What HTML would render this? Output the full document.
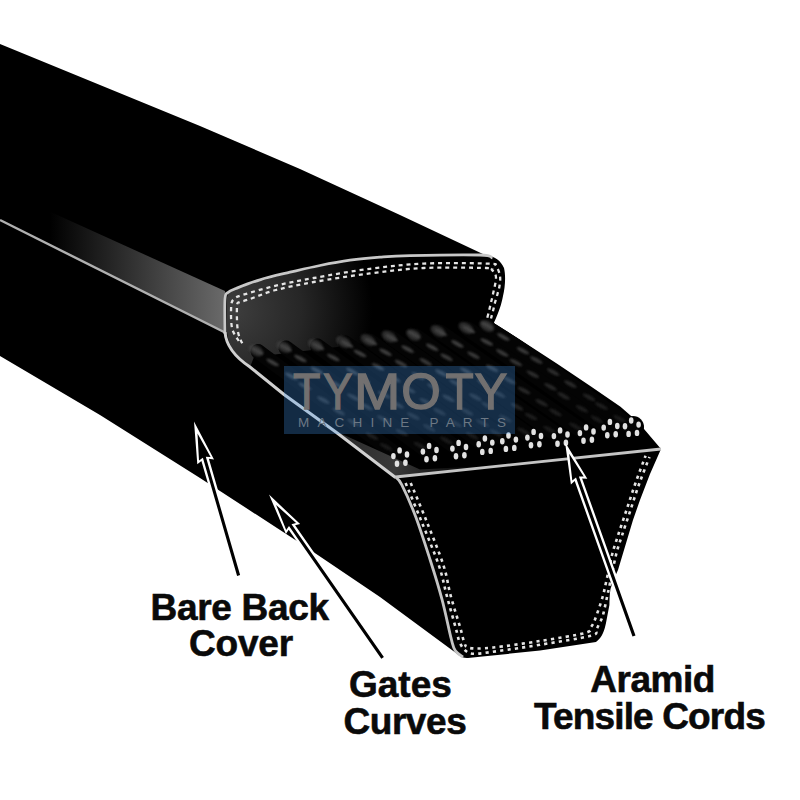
<!DOCTYPE html>
<html><head><meta charset="utf-8"><style>
html,body{margin:0;padding:0;background:#fff;}
body{width:800px;height:800px;overflow:hidden;position:relative;}
svg{position:absolute;left:0;top:0;}
.lbl{position:absolute;font-family:"Liberation Sans",sans-serif;font-weight:bold;color:#0a0a0a;text-align:center;white-space:nowrap;letter-spacing:-0.4px;}
</style></head><body>
<svg width="800" height="800" viewBox="0 0 800 800">
<defs>
<linearGradient id="band" x1="50" y1="0" x2="225" y2="0" gradientUnits="userSpaceOnUse">
<stop offset="0" stop-color="#000"/><stop offset="1" stop-color="#6a6a6a"/></linearGradient>
<radialGradient id="capg" cx="232" cy="310" r="140" fx="232" fy="310" gradientUnits="userSpaceOnUse"><stop offset="0" stop-color="#3e3e3e"/><stop offset="0.5" stop-color="#262626"/><stop offset="1" stop-color="#000"/></radialGradient>
<filter id="blur1" x="-20%" y="-20%" width="140%" height="140%"><feGaussianBlur stdDeviation="1.2"/></filter>
<linearGradient id="tri" x1="340" y1="440" x2="485" y2="470" gradientUnits="userSpaceOnUse">
<stop offset="0" stop-color="#2a2a2a"/><stop offset="0.4" stop-color="#3a3a3a"/><stop offset="1" stop-color="#2a2a2a" stop-opacity="0"/></linearGradient>
<clipPath id="cordclip"><path d="M250 367 C236 357 230 345 232 338 L490 318 L494.5 323.5 L519 339 L557.5 364 L591 386.5 L620.5 406.75 L638.5 422.5 L661 449 L395.5 477 L310 410 Z"/></clipPath>
<clipPath id="boxclip"><rect x="284" y="366" width="231" height="68"/></clipPath>
</defs>
<path d="M0 44 L100 85 L200 126 L300 169 L400 215 L485 255 C495 256 501 261 504 268 C506 276 505 288 503 296 C501.5 304 499 312 494 322.5 L494.5 323.5 L519 339 L557.5 364 L591 386.5 L620.5 406.75 L638.5 422.5 L661 449 L650 474 L640 500 L633 520 L627 540 L621 560 L618 570 L613 581 L610.5 589 C609.5 595 609.6 600 609.4 605 L606 623 C604.5 630 602.6 637 596 642 L540 650.5 L480 656.75 L468 658 C465 658.3 461 657.5 458 654.5 L380 597 L300 543 L200 478 L100 415 L0 356 Z" fill="#000"/>
<circle cx="633" cy="427" r="11" fill="#000"/>
<path d="M0 189 L225 291 L225 332.5 L0 220 Z" fill="url(#band)"/>
<path d="M0 220 L225 332.5" stroke="#b0b0b0" stroke-width="2.4" fill="none"/>
<path d="M227 298 C228 292 230 290 235 289 C300 268 340 262 380 259 L480 257 C490 257 498 260 501 268 C503 285 501 305 493 322 L485 330 L387 341 L254 357 L250 367 C236 357 228 345 227 332 Z" fill="url(#capg)"/>
<g clip-path="url(#cordclip)"><g stroke="#040404" stroke-width="15" stroke-linecap="round"><line x1="258.0" y1="351.5" x2="400.5" y2="457.5"/><line x1="286.0" y1="348.0" x2="430.0" y2="453.0"/><line x1="317.5" y1="346.0" x2="459.5" y2="450.0"/><line x1="345.5" y1="343.0" x2="485.8" y2="445.6"/><line x1="370.0" y1="341.0" x2="509.4" y2="442.6"/><line x1="391.0" y1="337.5" x2="534.5" y2="439.0"/><line x1="415.5" y1="335.8" x2="561.0" y2="437.5"/><line x1="440.0" y1="332.0" x2="587.0" y2="434.5"/><line x1="468.0" y1="329.0" x2="610.8" y2="429.0"/><line x1="489.0" y1="327.0" x2="632.1" y2="427.6"/></g><g fill="#444" filter="url(#blur1)"><ellipse cx="257.2" cy="350.9" rx="7" ry="2" fill-opacity="0.98" transform="rotate(28 257.2 350.9)"/><ellipse cx="272.6" cy="362.4" rx="7" ry="2" fill-opacity="0.90" transform="rotate(28 272.6 362.4)"/><ellipse cx="291.4" cy="376.3" rx="7" ry="2" fill-opacity="0.81" transform="rotate(28 291.4 376.3)"/><ellipse cx="304.8" cy="386.3" rx="7" ry="2" fill-opacity="0.74" transform="rotate(28 304.8 386.3)"/><ellipse cx="323.4" cy="400.1" rx="7" ry="2" fill-opacity="0.64" transform="rotate(28 323.4 400.1)"/><ellipse cx="338.8" cy="411.6" rx="7" ry="2" fill-opacity="0.57" transform="rotate(28 338.8 411.6)"/><ellipse cx="353.6" cy="422.6" rx="7" ry="2" fill-opacity="0.49" transform="rotate(28 353.6 422.6)"/><ellipse cx="372.1" cy="436.3" rx="7" ry="2" fill-opacity="0.40" transform="rotate(28 372.1 436.3)"/><ellipse cx="386.0" cy="446.7" rx="7" ry="2" fill-opacity="0.35" transform="rotate(28 386.0 446.7)"/><ellipse cx="256.0" cy="350.5" rx="8" ry="5" fill-opacity="0.6" transform="rotate(30 256.0 350.5)"/><ellipse cx="285.8" cy="347.8" rx="7" ry="2" fill-opacity="0.98" transform="rotate(28 285.8 347.8)"/><ellipse cx="300.4" cy="358.5" rx="7" ry="2" fill-opacity="0.91" transform="rotate(28 300.4 358.5)"/><ellipse cx="317.0" cy="370.5" rx="7" ry="2" fill-opacity="0.82" transform="rotate(28 317.0 370.5)"/><ellipse cx="335.1" cy="383.7" rx="7" ry="2" fill-opacity="0.73" transform="rotate(28 335.1 383.7)"/><ellipse cx="353.5" cy="397.2" rx="7" ry="2" fill-opacity="0.64" transform="rotate(28 353.5 397.2)"/><ellipse cx="366.5" cy="406.6" rx="7" ry="2" fill-opacity="0.57" transform="rotate(28 366.5 406.6)"/><ellipse cx="383.4" cy="419.0" rx="7" ry="2" fill-opacity="0.49" transform="rotate(28 383.4 419.0)"/><ellipse cx="401.9" cy="432.5" rx="7" ry="2" fill-opacity="0.39" transform="rotate(28 401.9 432.5)"/><ellipse cx="419.9" cy="445.6" rx="7" ry="2" fill-opacity="0.35" transform="rotate(28 419.9 445.6)"/><ellipse cx="284.0" cy="347.0" rx="8" ry="5" fill-opacity="0.6" transform="rotate(30 284.0 347.0)"/><ellipse cx="317.9" cy="346.2" rx="7" ry="2" fill-opacity="0.98" transform="rotate(28 317.9 346.2)"/><ellipse cx="333.3" cy="357.5" rx="7" ry="2" fill-opacity="0.90" transform="rotate(28 333.3 357.5)"/><ellipse cx="352.3" cy="371.4" rx="7" ry="2" fill-opacity="0.80" transform="rotate(28 352.3 371.4)"/><ellipse cx="364.0" cy="380.0" rx="7" ry="2" fill-opacity="0.74" transform="rotate(28 364.0 380.0)"/><ellipse cx="384.2" cy="394.8" rx="7" ry="2" fill-opacity="0.64" transform="rotate(28 384.2 394.8)"/><ellipse cx="397.6" cy="404.7" rx="7" ry="2" fill-opacity="0.57" transform="rotate(28 397.6 404.7)"/><ellipse cx="413.2" cy="416.0" rx="7" ry="2" fill-opacity="0.49" transform="rotate(28 413.2 416.0)"/><ellipse cx="429.3" cy="427.8" rx="7" ry="2" fill-opacity="0.41" transform="rotate(28 429.3 427.8)"/><ellipse cx="446.4" cy="440.4" rx="7" ry="2" fill-opacity="0.35" transform="rotate(28 446.4 440.4)"/><ellipse cx="315.5" cy="345.0" rx="8" ry="5" fill-opacity="0.6" transform="rotate(30 315.5 345.0)"/><ellipse cx="347.0" cy="344.0" rx="7" ry="2" fill-opacity="0.97" transform="rotate(28 347.0 344.0)"/><ellipse cx="360.0" cy="353.5" rx="7" ry="2" fill-opacity="0.90" transform="rotate(28 360.0 353.5)"/><ellipse cx="378.0" cy="366.7" rx="7" ry="2" fill-opacity="0.81" transform="rotate(28 378.0 366.7)"/><ellipse cx="394.3" cy="378.6" rx="7" ry="2" fill-opacity="0.73" transform="rotate(28 394.3 378.6)"/><ellipse cx="409.0" cy="389.4" rx="7" ry="2" fill-opacity="0.65" transform="rotate(28 409.0 389.4)"/><ellipse cx="425.9" cy="401.8" rx="7" ry="2" fill-opacity="0.56" transform="rotate(28 425.9 401.8)"/><ellipse cx="439.6" cy="411.8" rx="7" ry="2" fill-opacity="0.49" transform="rotate(28 439.6 411.8)"/><ellipse cx="455.6" cy="423.5" rx="7" ry="2" fill-opacity="0.41" transform="rotate(28 455.6 423.5)"/><ellipse cx="472.3" cy="435.8" rx="7" ry="2" fill-opacity="0.35" transform="rotate(28 472.3 435.8)"/><ellipse cx="343.5" cy="342.0" rx="8" ry="5" fill-opacity="0.6" transform="rotate(30 343.5 342.0)"/><ellipse cx="370.8" cy="341.5" rx="7" ry="2" fill-opacity="0.97" transform="rotate(28 370.8 341.5)"/><ellipse cx="385.6" cy="352.3" rx="7" ry="2" fill-opacity="0.90" transform="rotate(28 385.6 352.3)"/><ellipse cx="401.0" cy="363.5" rx="7" ry="2" fill-opacity="0.82" transform="rotate(28 401.0 363.5)"/><ellipse cx="418.2" cy="376.1" rx="7" ry="2" fill-opacity="0.73" transform="rotate(28 418.2 376.1)"/><ellipse cx="433.5" cy="387.2" rx="7" ry="2" fill-opacity="0.65" transform="rotate(28 433.5 387.2)"/><ellipse cx="448.7" cy="398.3" rx="7" ry="2" fill-opacity="0.57" transform="rotate(28 448.7 398.3)"/><ellipse cx="467.0" cy="411.7" rx="7" ry="2" fill-opacity="0.47" transform="rotate(28 467.0 411.7)"/><ellipse cx="482.5" cy="423.0" rx="7" ry="2" fill-opacity="0.39" transform="rotate(28 482.5 423.0)"/><ellipse cx="496.2" cy="433.0" rx="7" ry="2" fill-opacity="0.35" transform="rotate(28 496.2 433.0)"/><ellipse cx="368.0" cy="340.0" rx="8" ry="5" fill-opacity="0.6" transform="rotate(30 368.0 340.0)"/><ellipse cx="391.5" cy="337.7" rx="7" ry="2" fill-opacity="0.98" transform="rotate(28 391.5 337.7)"/><ellipse cx="407.6" cy="349.1" rx="7" ry="2" fill-opacity="0.90" transform="rotate(28 407.6 349.1)"/><ellipse cx="425.7" cy="361.9" rx="7" ry="2" fill-opacity="0.80" transform="rotate(28 425.7 361.9)"/><ellipse cx="441.4" cy="373.0" rx="7" ry="2" fill-opacity="0.72" transform="rotate(28 441.4 373.0)"/><ellipse cx="455.6" cy="383.1" rx="7" ry="2" fill-opacity="0.65" transform="rotate(28 455.6 383.1)"/><ellipse cx="475.4" cy="397.1" rx="7" ry="2" fill-opacity="0.55" transform="rotate(28 475.4 397.1)"/><ellipse cx="487.6" cy="405.7" rx="7" ry="2" fill-opacity="0.49" transform="rotate(28 487.6 405.7)"/><ellipse cx="505.4" cy="418.4" rx="7" ry="2" fill-opacity="0.40" transform="rotate(28 505.4 418.4)"/><ellipse cx="523.5" cy="431.2" rx="7" ry="2" fill-opacity="0.35" transform="rotate(28 523.5 431.2)"/><ellipse cx="389.0" cy="336.5" rx="8" ry="5" fill-opacity="0.6" transform="rotate(30 389.0 336.5)"/><ellipse cx="413.9" cy="334.4" rx="7" ry="2" fill-opacity="0.99" transform="rotate(28 413.9 334.4)"/><ellipse cx="432.2" cy="347.3" rx="7" ry="2" fill-opacity="0.90" transform="rotate(28 432.2 347.3)"/><ellipse cx="446.6" cy="357.3" rx="7" ry="2" fill-opacity="0.82" transform="rotate(28 446.6 357.3)"/><ellipse cx="466.3" cy="371.2" rx="7" ry="2" fill-opacity="0.72" transform="rotate(28 466.3 371.2)"/><ellipse cx="483.4" cy="383.1" rx="7" ry="2" fill-opacity="0.64" transform="rotate(28 483.4 383.1)"/><ellipse cx="499.1" cy="394.1" rx="7" ry="2" fill-opacity="0.56" transform="rotate(28 499.1 394.1)"/><ellipse cx="517.2" cy="406.8" rx="7" ry="2" fill-opacity="0.47" transform="rotate(28 517.2 406.8)"/><ellipse cx="531.0" cy="416.5" rx="7" ry="2" fill-opacity="0.40" transform="rotate(28 531.0 416.5)"/><ellipse cx="549.5" cy="429.5" rx="7" ry="2" fill-opacity="0.35" transform="rotate(28 549.5 429.5)"/><ellipse cx="413.5" cy="334.8" rx="8" ry="5" fill-opacity="0.6" transform="rotate(30 413.5 334.8)"/><ellipse cx="440.7" cy="332.3" rx="7" ry="2" fill-opacity="0.98" transform="rotate(28 440.7 332.3)"/><ellipse cx="457.4" cy="343.9" rx="7" ry="2" fill-opacity="0.89" transform="rotate(28 457.4 343.9)"/><ellipse cx="473.5" cy="355.2" rx="7" ry="2" fill-opacity="0.81" transform="rotate(28 473.5 355.2)"/><ellipse cx="492.2" cy="368.3" rx="7" ry="2" fill-opacity="0.72" transform="rotate(28 492.2 368.3)"/><ellipse cx="509.5" cy="380.4" rx="7" ry="2" fill-opacity="0.63" transform="rotate(28 509.5 380.4)"/><ellipse cx="524.0" cy="390.5" rx="7" ry="2" fill-opacity="0.56" transform="rotate(28 524.0 390.5)"/><ellipse cx="541.7" cy="402.8" rx="7" ry="2" fill-opacity="0.48" transform="rotate(28 541.7 402.8)"/><ellipse cx="555.4" cy="412.4" rx="7" ry="2" fill-opacity="0.41" transform="rotate(28 555.4 412.4)"/><ellipse cx="575.4" cy="426.4" rx="7" ry="2" fill-opacity="0.35" transform="rotate(28 575.4 426.4)"/><ellipse cx="438.0" cy="331.0" rx="8" ry="5" fill-opacity="0.6" transform="rotate(30 438.0 331.0)"/><ellipse cx="468.8" cy="329.4" rx="7" ry="2" fill-opacity="0.98" transform="rotate(28 468.8 329.4)"/><ellipse cx="486.8" cy="342.0" rx="7" ry="2" fill-opacity="0.88" transform="rotate(28 486.8 342.0)"/><ellipse cx="502.3" cy="352.9" rx="7" ry="2" fill-opacity="0.80" transform="rotate(28 502.3 352.9)"/><ellipse cx="515.9" cy="362.5" rx="7" ry="2" fill-opacity="0.73" transform="rotate(28 515.9 362.5)"/><ellipse cx="532.7" cy="374.2" rx="7" ry="2" fill-opacity="0.65" transform="rotate(28 532.7 374.2)"/><ellipse cx="550.4" cy="386.7" rx="7" ry="2" fill-opacity="0.56" transform="rotate(28 550.4 386.7)"/><ellipse cx="563.6" cy="395.9" rx="7" ry="2" fill-opacity="0.49" transform="rotate(28 563.6 395.9)"/><ellipse cx="582.0" cy="408.8" rx="7" ry="2" fill-opacity="0.40" transform="rotate(28 582.0 408.8)"/><ellipse cx="596.9" cy="419.3" rx="7" ry="2" fill-opacity="0.35" transform="rotate(28 596.9 419.3)"/><ellipse cx="466.0" cy="328.0" rx="8" ry="5" fill-opacity="0.6" transform="rotate(30 466.0 328.0)"/><ellipse cx="487.2" cy="325.6" rx="7" ry="2" fill-opacity="0.99" transform="rotate(28 487.2 325.6)"/><ellipse cx="503.3" cy="336.9" rx="7" ry="2" fill-opacity="0.91" transform="rotate(28 503.3 336.9)"/><ellipse cx="523.1" cy="350.8" rx="7" ry="2" fill-opacity="0.81" transform="rotate(28 523.1 350.8)"/><ellipse cx="536.3" cy="360.1" rx="7" ry="2" fill-opacity="0.74" transform="rotate(28 536.3 360.1)"/><ellipse cx="553.2" cy="372.1" rx="7" ry="2" fill-opacity="0.65" transform="rotate(28 553.2 372.1)"/><ellipse cx="570.3" cy="384.1" rx="7" ry="2" fill-opacity="0.57" transform="rotate(28 570.3 384.1)"/><ellipse cx="589.0" cy="397.2" rx="7" ry="2" fill-opacity="0.47" transform="rotate(28 589.0 397.2)"/><ellipse cx="601.4" cy="406.0" rx="7" ry="2" fill-opacity="0.41" transform="rotate(28 601.4 406.0)"/><ellipse cx="619.6" cy="418.8" rx="7" ry="2" fill-opacity="0.35" transform="rotate(28 619.6 418.8)"/><ellipse cx="487.0" cy="326.0" rx="8" ry="5" fill-opacity="0.6" transform="rotate(30 487.0 326.0)"/></g></g>
<path d="M333 430 L420 469.5 L485 466 L395.5 477.5 Z" fill="url(#tri)"/>
<path d="M225.0 334.0 C225.0 328.2 224.5 305.9 225.0 299.0 C225.5 292.1 226.2 294.2 228.0 292.5 C229.8 290.8 230.7 290.6 236.0 288.5 C241.3 286.4 251.0 282.5 260.0 279.8 C269.0 277.0 280.0 274.6 290.0 272.2 C300.0 269.9 310.0 267.5 320.0 265.5 C330.0 263.5 340.0 261.6 350.0 260.2 C360.0 258.9 370.0 258.0 380.0 257.2 C390.0 256.4 393.3 256.0 410.0 255.6 C426.7 255.2 466.2 254.6 480.0 255.0 C493.8 255.4 490.4 257.5 492.5 258.0" stroke="#c8c8c8" stroke-width="2.8" fill="none"/>
<path d="M225 332 C226 345 235 357 250 367 L284 394.5 L336.5 432.5 L395.5 477.5" stroke="#d0d0d0" stroke-width="3" fill="none"/>
<path d="M238.8 341.0 C237.6 338.8 233.2 333.8 232.0 328.0 C230.8 322.2 230.9 310.8 231.2 306.0 C231.6 301.2 232.1 300.8 234.0 299.0 C235.9 297.2 235.5 297.2 242.5 295.0 C249.5 292.8 264.1 288.4 276.0 285.6 C287.9 282.8 298.1 280.8 313.8 278.0 C329.5 275.2 351.6 271.1 370.0 268.8 C388.4 266.4 404.3 264.5 424.0 263.6 C443.7 262.7 476.0 263.2 488.0 263.6 C500.0 264.0 494.0 263.9 496.0 266.0 C498.0 268.1 499.4 272.7 500.0 276.0 C500.6 279.3 499.9 283.0 499.5 286.0 C499.1 289.0 498.2 291.2 497.5 294.0 C496.8 296.8 495.8 299.7 495.0 302.5 C494.2 305.3 493.7 308.3 493.0 311.0 C492.3 313.7 491.3 317.2 491.0 318.5" stroke="#e4e4e4" stroke-width="2.3" stroke-dasharray="4 3.9" fill="none"/>
<path d="M244.0 346.6 C243.0 344.2 239.2 338.8 238.0 332.0 C236.8 325.2 236.7 311.0 237.0 306.0 C237.3 301.0 238.2 303.1 240.0 302.0 C241.8 300.9 242.0 301.7 248.0 299.7 C254.0 297.7 265.0 292.9 276.0 290.0 C287.0 287.1 298.1 284.8 313.8 282.0 C329.5 279.2 351.6 275.7 370.0 273.4 C388.4 271.1 404.7 268.9 424.0 268.0 C443.3 267.1 474.7 267.7 486.0 268.0 C497.3 268.3 490.3 268.4 492.0 270.0 C493.7 271.6 495.8 273.5 496.0 277.5 C496.2 281.5 493.8 289.8 493.0 294.0 C492.2 298.2 491.7 299.7 491.0 302.5 C490.3 305.3 489.7 308.2 489.0 311.0 C488.3 313.8 487.3 317.7 487.0 319.0" stroke="#e4e4e4" stroke-width="2.3" stroke-dasharray="4 3.9" stroke-dashoffset="4" fill="none"/>
<g fill="#e2e2e2"><ellipse cx="399.6" cy="450.4" rx="2.3" ry="3.2"/><ellipse cx="407.0" cy="454.5" rx="2.3" ry="3.2"/><ellipse cx="405.4" cy="462.8" rx="2.3" ry="3.2"/><ellipse cx="397.0" cy="463.8" rx="2.3" ry="3.2"/><ellipse cx="393.4" cy="456.1" rx="2.3" ry="3.2"/><ellipse cx="429.1" cy="445.9" rx="2.3" ry="3.2"/><ellipse cx="436.5" cy="450.0" rx="2.3" ry="3.2"/><ellipse cx="434.9" cy="458.3" rx="2.3" ry="3.2"/><ellipse cx="426.5" cy="459.3" rx="2.3" ry="3.2"/><ellipse cx="422.9" cy="451.6" rx="2.3" ry="3.2"/><ellipse cx="458.6" cy="442.9" rx="2.3" ry="3.2"/><ellipse cx="466.0" cy="447.0" rx="2.3" ry="3.2"/><ellipse cx="464.4" cy="455.3" rx="2.3" ry="3.2"/><ellipse cx="456.0" cy="456.3" rx="2.3" ry="3.2"/><ellipse cx="452.4" cy="448.6" rx="2.3" ry="3.2"/><ellipse cx="484.9" cy="438.5" rx="2.3" ry="3.2"/><ellipse cx="492.3" cy="442.6" rx="2.3" ry="3.2"/><ellipse cx="490.7" cy="450.9" rx="2.3" ry="3.2"/><ellipse cx="482.3" cy="451.9" rx="2.3" ry="3.2"/><ellipse cx="478.7" cy="444.2" rx="2.3" ry="3.2"/><ellipse cx="508.5" cy="435.5" rx="2.3" ry="3.2"/><ellipse cx="515.9" cy="439.6" rx="2.3" ry="3.2"/><ellipse cx="514.3" cy="447.9" rx="2.3" ry="3.2"/><ellipse cx="505.9" cy="448.9" rx="2.3" ry="3.2"/><ellipse cx="502.3" cy="441.2" rx="2.3" ry="3.2"/><ellipse cx="533.6" cy="431.9" rx="2.3" ry="3.2"/><ellipse cx="541.0" cy="436.0" rx="2.3" ry="3.2"/><ellipse cx="539.4" cy="444.3" rx="2.3" ry="3.2"/><ellipse cx="531.0" cy="445.3" rx="2.3" ry="3.2"/><ellipse cx="527.4" cy="437.6" rx="2.3" ry="3.2"/><ellipse cx="560.1" cy="430.4" rx="2.3" ry="3.2"/><ellipse cx="567.5" cy="434.5" rx="2.3" ry="3.2"/><ellipse cx="565.9" cy="442.8" rx="2.3" ry="3.2"/><ellipse cx="557.5" cy="443.8" rx="2.3" ry="3.2"/><ellipse cx="553.9" cy="436.1" rx="2.3" ry="3.2"/><ellipse cx="586.1" cy="427.4" rx="2.3" ry="3.2"/><ellipse cx="593.5" cy="431.5" rx="2.3" ry="3.2"/><ellipse cx="591.9" cy="439.8" rx="2.3" ry="3.2"/><ellipse cx="583.5" cy="440.8" rx="2.3" ry="3.2"/><ellipse cx="579.9" cy="433.1" rx="2.3" ry="3.2"/><ellipse cx="609.9" cy="421.9" rx="2.3" ry="3.2"/><ellipse cx="617.3" cy="426.0" rx="2.3" ry="3.2"/><ellipse cx="615.7" cy="434.3" rx="2.3" ry="3.2"/><ellipse cx="607.3" cy="435.3" rx="2.3" ry="3.2"/><ellipse cx="603.7" cy="427.6" rx="2.3" ry="3.2"/><ellipse cx="631.2" cy="420.5" rx="2.3" ry="3.2"/><ellipse cx="638.6" cy="424.6" rx="2.3" ry="3.2"/><ellipse cx="637.0" cy="432.9" rx="2.3" ry="3.2"/><ellipse cx="628.6" cy="433.9" rx="2.3" ry="3.2"/><ellipse cx="625.0" cy="426.2" rx="2.3" ry="3.2"/></g>
<path d="M661 449 L395.5 477" stroke="#c4c4c4" stroke-width="2.8" fill="none"/>
<path d="M395.5 477.0 C396.5 478.3 398.3 477.9 401.7 484.6 C405.1 491.3 411.0 504.4 415.8 517.0 C420.5 529.6 425.8 546.3 430.2 560.0 C434.6 573.7 438.5 586.3 442.0 599.4 C445.5 612.5 449.0 630.2 451.2 638.7 C453.4 647.2 453.2 647.5 455.2 650.5 C457.2 653.5 461.7 655.9 463.0 657.0" stroke="#c4c4c4" stroke-width="2.8" fill="none"/>
<path d="M405.6 483.0 C408.2 489.3 415.8 507.3 421.3 521.0 C426.8 534.7 434.6 552.8 438.8 565.2 C443.0 577.6 443.9 584.9 446.7 595.4 C449.5 605.9 453.6 620.3 455.8 628.2 C458.0 636.1 458.1 638.9 459.8 642.7 C461.5 646.5 463.5 649.1 466.0 651.0 C468.5 652.9 469.5 653.8 474.9 653.8 C480.3 653.8 487.6 652.5 498.5 651.0 C509.4 649.5 524.6 647.3 540.0 644.8 C555.4 642.2 581.7 638.2 591.0 635.8 C600.3 633.3 594.6 632.1 596.0 630.0 C597.4 627.9 598.3 625.5 599.5 623.0 C600.7 620.5 601.6 620.1 603.0 615.0 C604.4 609.9 605.8 602.6 608.0 592.6 C610.2 582.6 613.7 564.5 616.0 555.0 C618.3 545.5 619.6 543.0 622.0 535.5 C624.4 528.0 627.6 518.8 630.5 510.0 C633.4 501.2 636.3 491.8 639.5 483.0 C642.7 474.2 647.8 461.3 649.5 457.0" stroke="#e4e4e4" stroke-width="2.6" stroke-dasharray="3.2 4.2" fill="none"/>
<path d="M410.7 483.0 C413.3 489.3 421.1 507.3 426.5 521.0 C431.9 534.7 439.4 552.6 443.4 565.0 C447.4 577.4 447.8 584.9 450.6 595.4 C453.4 605.9 458.1 620.3 460.4 628.2 C462.7 636.1 462.9 639.4 464.4 642.7 C465.9 646.0 464.8 647.2 469.6 648.0 C474.4 648.8 481.5 648.7 493.2 647.5 C504.9 646.3 524.7 643.4 540.0 641.0 C555.3 638.6 576.5 635.3 585.0 633.0 C593.5 630.7 589.3 629.2 591.0 627.0 C592.7 624.8 593.1 624.5 595.0 619.5 C596.9 614.5 600.8 603.2 602.6 597.0 C604.4 590.8 604.4 589.5 606.0 582.5 C607.6 575.5 610.0 562.8 612.0 555.0 C614.0 547.2 615.6 543.0 618.0 535.5 C620.4 528.0 623.6 518.8 626.5 510.0 C629.4 501.2 632.3 492.1 635.5 483.0 C638.7 473.9 643.9 460.2 645.6 455.7" stroke="#e4e4e4" stroke-width="2.6" stroke-dasharray="3.2 4.2" fill="none"/>
<rect x="284" y="366" width="231" height="68" fill="rgb(70,160,250)" fill-opacity="0.27"/>

<g font-family="Liberation Sans" font-size="51" fill="#727070" stroke="#727070" stroke-width="1.3"><text transform="translate(292.90 409) scale(0.881 0.98)">T</text><text transform="translate(323.10 409) scale(0.868 0.98)">Y</text><text transform="translate(353.93 409) scale(1.091 0.98)">M</text><text transform="translate(401.31 409) scale(0.997 0.98)">O</text><text transform="translate(445.50 409) scale(0.906 0.98)">T</text><text transform="translate(474.40 409) scale(0.965 0.98)">Y</text></g>
<text x="402" y="426.5" text-anchor="middle" font-family="Liberation Sans" font-size="13.5" fill="#6c7884" textLength="208" lengthAdjust="spacing">MACHINE PARTS</text>
<g fill="#fff"><path d="M194.0 421.5 L197.3 464.3 L201.4 461.0 L235.3 578.0 L242.8 575.9 L208.9 458.8 L214.0 459.4 Z"/><path d="M269.0 494.6 L285.9 534.0 L288.7 529.7 L380.3 661.3 L386.7 656.8 L295.1 525.2 L300.1 524.1 Z"/><path d="M565.0 442.0 L570.9 484.5 L574.7 481.0 L630.8 638.7 L638.2 636.1 L582.1 478.4 L587.3 478.7 Z"/></g>
<g fill="#000"><path d="M197.5 433.5 L199.0 460.4 L202.9 457.7 L237.1 575.9 L240.1 575.1 L205.8 456.8 L210.6 457.1 Z"/><path d="M276.1 504.9 L286.2 529.9 L289.0 526.0 L381.3 658.7 L383.9 656.9 L291.5 524.2 L296.1 523.0 Z"/><path d="M569.2 453.8 L572.3 480.6 L576.0 477.6 L632.5 636.5 L635.5 635.5 L578.9 476.5 L583.7 476.5 Z"/></g>
</svg>
<svg width="800" height="800" viewBox="0 0 800 800" style="position:absolute;left:0;top:0">
<g font-family="Liberation Sans" font-weight="bold" font-size="37" fill="#0a0a0a" stroke="#0a0a0a" stroke-width="0.6">
<text x="150.5" y="620" letter-spacing="-0.3">Bare Back</text>
<text x="189" y="656" letter-spacing="-0.2">Cover</text>
<text x="349" y="696.5">Gates</text>
<text x="343.5" y="734" letter-spacing="-0.45">Curves</text>
<text x="590.3" y="691.6" letter-spacing="-0.5">Aramid</text>
<text x="534" y="729.3" letter-spacing="-0.85">Tensile Cords</text>
</g></svg>
</body></html>
